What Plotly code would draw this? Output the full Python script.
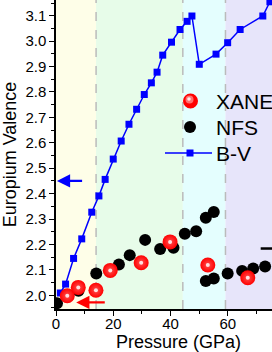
import plotly.graph_objects as go

# B-V (blue squares)
bv_p = [1.52, 3.35, 6.14, 8.99, 12.49, 14.99, 17.17, 19.99, 22.77, 25.49, 28.16, 30.84, 33.31, 35.30,
        37.28, 40.35, 43.32, 45.80, 47.48, 50.05, 55.90, 59.96, 64.32, 72.24, 74.72]
bv_v = [2.009, 2.044, 2.145, 2.222, 2.327, 2.391, 2.456, 2.536, 2.607, 2.673, 2.732, 2.790, 2.836, 2.878,
        2.945, 2.996, 3.046, 3.078, 3.099, 2.909, 2.949, 2.994, 3.046, 3.099, 3.155]

# NFS (black dots)
nfs_p = [0.35, 7.86, 14.06, 21.97, 25.75, 31.13, 36.38, 41.04, 45.00, 48.96, 52.33, 55.11,
         52.33, 55.11, 59.96, 65.01, 68.88, 73.04]
nfs_v = [1.969, 2.018, 2.086, 2.121, 2.158, 2.218, 2.182, 2.187, 2.242, 2.252, 2.305, 2.328,
         2.056, 2.066, 2.086, 2.096, 2.105, 2.113]

# XANES (red spheres)
xanes_p = [3.94, 7.78, 13.95, 18.95, 29.75, 39.85, 53.03, 66.99]
xanes_v = [1.998, 2.031, 2.020, 2.098, 2.128, 2.210, 2.119, 2.069]

# Legend labels
legend_labels = ["XANES", "NFS", "B-V"]

# Phase boundaries (GPa) and region colours
bounds = [0, 14.0, 44.3, 59.2, 80]
region_colors = ["#FEFEE8", "#E7FCE9", "#E4FEFE", "#E7E5FA"]

X_MAX = 75.45
Y_MIN, Y_MAX = 1.946, 3.162

W, H = 272, 352
ML, MR, MT, MB = 56, 0, 0, 43
PW, PH = W - ML - MR, H - MT - MB


def px(xp):
    return (xp - ML) / PW


def py(yp):
    return 1 - (yp - MT) / PH


fig = go.Figure()

fig.add_trace(go.Scatter(
    x=bv_p, y=bv_v, mode="lines+markers", name="B-V", showlegend=False,
    line=dict(color="#0000FF", width=1.5),
    marker=dict(symbol="square", size=7, color="#0000FF"),
))
fig.add_trace(go.Scatter(
    x=nfs_p, y=nfs_v, mode="markers", name="NFS", showlegend=False,
    marker=dict(symbol="circle", size=12, color="#000000"),
))
fig.add_trace(go.Scatter(
    x=xanes_p, y=xanes_v, mode="markers", name="XANES", showlegend=False,
    marker=dict(symbol="circle", size=15, color="#FF0000",
                gradient=dict(type="radial", color="#FF5050")),
))
fig.add_trace(go.Scatter(
    x=xanes_p, y=xanes_v, mode="markers", showlegend=False, hoverinfo="skip",
    marker=dict(symbol="circle", size=4, color="#FFE0E0"),
))

shapes = []
for i, c in enumerate(region_colors):
    shapes.append(dict(type="rect", xref="x", yref="paper", x0=bounds[i], x1=bounds[i + 1],
                       y0=0, y1=1, fillcolor=c, line=dict(width=0), layer="below"))
for b in bounds[1:4]:
    shapes.append(dict(type="line", xref="x", yref="paper", x0=b, x1=b, y0=0, y1=1,
                       line=dict(color="#BBBBBB", width=1.5, dash="dash"), layer="below"))
shapes.append(dict(type="line", xref="x", yref="y", x0=71.5, x1=X_MAX + 2, y0=2.184, y1=2.184,
                   line=dict(color="#000000", width=2.5)))


def circle(cx, cy, r, color):
    return dict(type="circle", xref="paper", yref="paper",
                x0=px(cx - r), x1=px(cx + r), y0=py(cy + r), y1=py(cy - r),
                fillcolor=color, line=dict(width=0))


# manual legend keys
shapes.append(circle(190.5, 101, 7.5, "#FF0000"))
shapes.append(circle(189.5, 99.5, 4, "#FF7070"))
shapes.append(circle(189, 99, 1.8, "#FFE8E8"))
shapes.append(circle(190, 127, 6, "#000000"))
shapes.append(dict(type="line", xref="paper", yref="paper", x0=px(165), x1=px(212),
                   y0=py(153), y1=py(153), line=dict(color="#0000FF", width=1.5)))
shapes.append(dict(type="rect", xref="paper", yref="paper", x0=px(186.5), x1=px(193.5),
                   y0=py(156.5), y1=py(149.5), fillcolor="#0000FF", line=dict(width=0)))

annotations = [
    dict(x=0.33, y=2.45, ax=9.64, ay=2.45, xref="x", yref="y", axref="x", ayref="y",
         showarrow=True, arrowhead=2, arrowsize=1.2, arrowwidth=2.2, arrowcolor="#0000FF", text=""),
    dict(x=7.06, y=1.972, ax=17.56, ay=1.972, xref="x", yref="y", axref="x", ayref="y",
         showarrow=True, arrowhead=2, arrowsize=1.2, arrowwidth=2.2, arrowcolor="#FF0000", text=""),
    dict(x=px(178.5), y=py(342), xref="paper", yref="paper", text="Pressure (GPa)",
         showarrow=False, xanchor="center", yanchor="middle", font=dict(size=18, color="#000000")),
]
for label, yp in zip(legend_labels, [101, 127, 153]):
    annotations.append(dict(x=px(214), y=py(yp), xref="paper", yref="paper", text=label,
                            showarrow=False, xanchor="left", yanchor="middle",
                            font=dict(size=21, color="#000000")))

fig.update_layout(
    width=W, height=H,
    margin=dict(l=ML, r=MR, t=MT, b=MB),
    paper_bgcolor="#FFFFFF", plot_bgcolor="#FFFFFF",
    font=dict(family="Liberation Sans, Arial, sans-serif", color="#000000", size=14),
    shapes=shapes, annotations=annotations,
    showlegend=False,
    xaxis=dict(range=[0, X_MAX], showgrid=False, zeroline=False, automargin=False,
               showline=True, linecolor="#000000", linewidth=1.5,
               ticks="outside", ticklen=5, tickwidth=1.2, tickcolor="#000000",
               dtick=20, tick0=0, ticklabelstandoff=-5,
               minor=dict(dtick=10, ticks="outside", ticklen=3, tickcolor="#000000"),
               tickfont=dict(size=15)),
    yaxis=dict(range=[Y_MIN, Y_MAX], showgrid=False, zeroline=False, automargin=False,
               showline=True, linecolor="#000000", linewidth=1.5,
               ticks="outside", ticklen=5, tickwidth=1.2, tickcolor="#000000",
               dtick=0.1, tick0=2.0, tickformat=".1f",
               minor=dict(dtick=0.05, ticks="outside", ticklen=3, tickcolor="#000000"),
               tickfont=dict(size=15),
               title=dict(text="Europium Valence", font=dict(size=18), standoff=4)),
)

fig.write_html("out.html", config={"displayModeBar": False},
               post_script="document.body.style.margin='0';document.body.style.overflow='hidden';")
